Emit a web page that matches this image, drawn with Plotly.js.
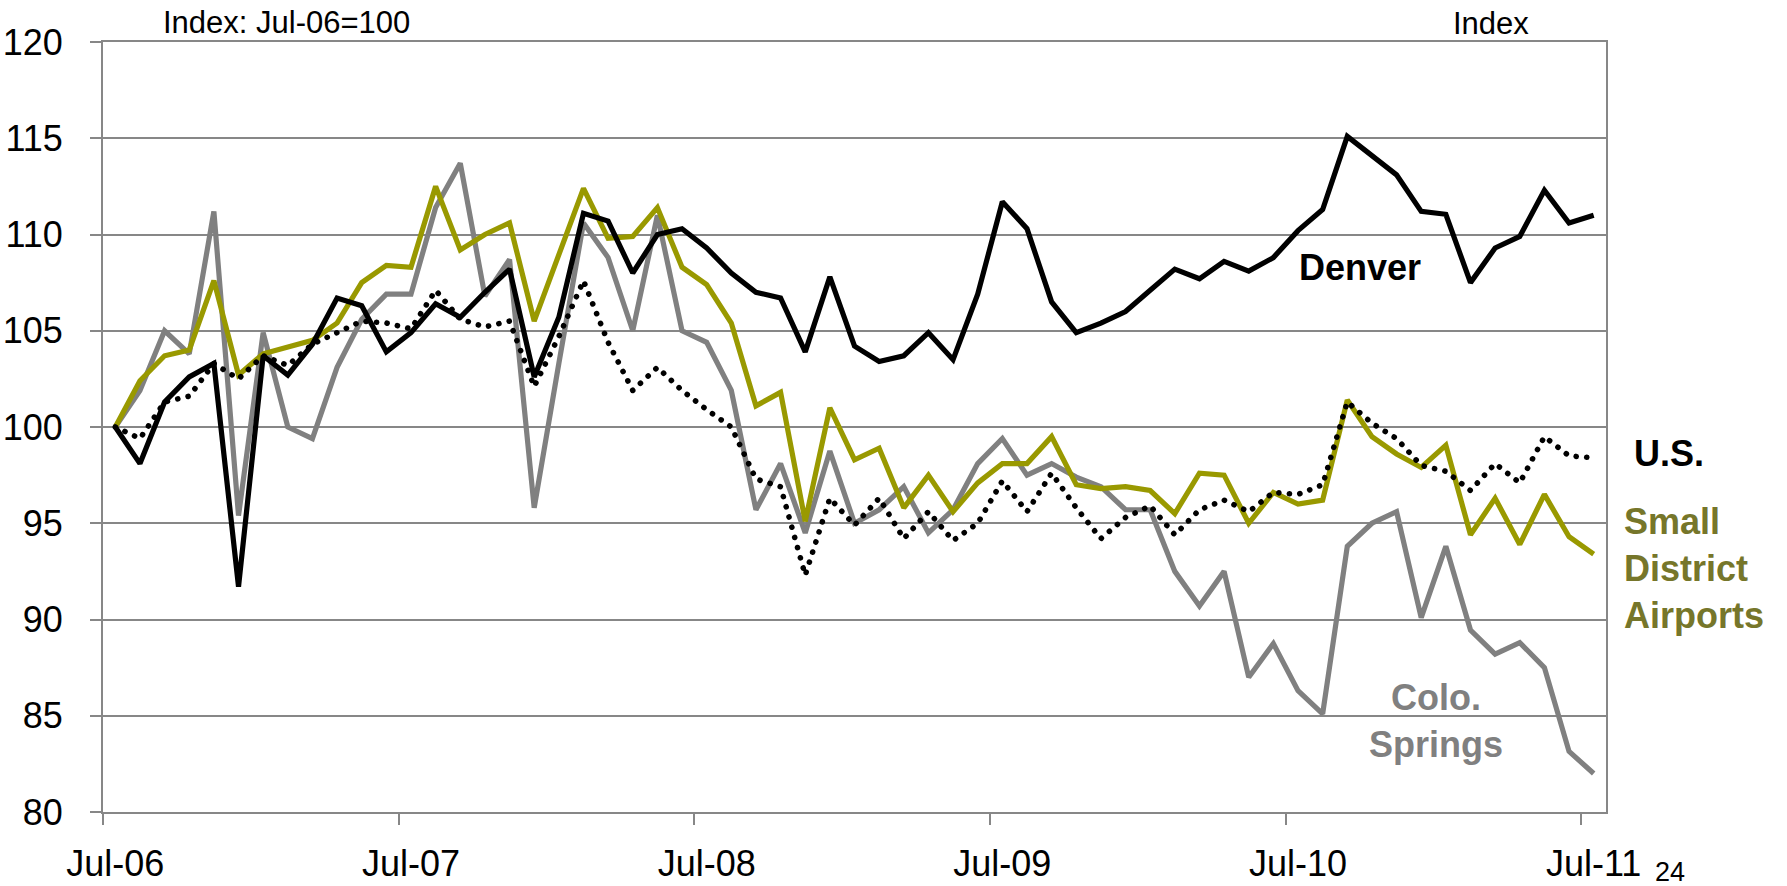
<!DOCTYPE html>
<html>
<head>
<meta charset="utf-8">
<script src="https://cdn.plot.ly/plotly-3.0.1.min.js"></script>
<style>
  html, body { margin: 0; padding: 0; background: #ffffff; }
  #chart { width: 1787px; height: 886px; }
</style>
</head>
<body>
<div id="chart"></div>
<script>
// Months Jul-06 .. Jul-11 (61 monthly points)
const monthIndex = Array.from({length: 61}, (_, i) => i);
const tickPositions = [0, 12, 24, 36, 48, 60];
const tickLabels = ['Jul-06', 'Jul-07', 'Jul-08', 'Jul-09', 'Jul-10', 'Jul-11'];
const yTickValues = [80, 85, 90, 95, 100, 105, 110, 115, 120];

const denver = [100, 98.1, 101.3, 102.6, 103.3, 91.7, 103.7, 102.7, 104.3, 106.7,
  106.3, 103.9, 104.9, 106.4, 105.7, 107.0, 108.2, 102.6, 105.7, 111.1,
  110.7, 108.0, 110.0, 110.3, 109.3, 108.0, 107.0, 106.7, 103.9, 107.8,
  104.2, 103.4, 103.7, 104.9, 103.5, 106.9, 111.7, 110.3, 106.5, 104.9,
  105.4, 106.0, 107.1, 108.2, 107.7, 108.6, 108.1, 108.8, 110.2, 111.3,
  115.1, 114.1, 113.1, 111.2, 111.05, 107.5, 109.3, 109.9, 112.3, 110.6, 111.0];

const us = [100, 99.4, 101.3, 101.6, 103.3, 102.5, 103.7, 103.2, 104.3, 104.9,
  105.5, 105.4, 105.1, 107.1, 105.6, 105.2, 105.5, 102.1, 104.7, 107.6,
  104.4, 101.9, 103.1, 101.9, 100.9, 100.0, 97.3, 96.9, 92.3, 96.3,
  94.9, 96.3, 94.2, 95.6, 94.1, 95.0, 97.2, 95.6, 97.6, 95.8,
  94.2, 95.3, 95.9, 94.4, 95.7, 96.2, 95.6, 96.6, 96.5, 97.0,
  101.3, 100.2, 99.4, 98.0, 97.7, 96.7, 98.1, 97.1, 99.5, 98.5, 98.4];

const smallDistrict = [100, 102.4, 103.7, 104.0, 107.6, 102.7, 103.8, 104.15, 104.5, 105.4,
  107.5, 108.4, 108.3, 112.5, 109.2, 110.0, 110.6, 105.5, 109.0, 112.4,
  109.8, 109.9, 111.4, 108.3, 107.4, 105.4, 101.1, 101.8, 95.1, 101.0,
  98.3, 98.9, 95.8, 97.5, 95.6, 97.1, 98.1, 98.1, 99.5, 97.0,
  96.8, 96.9, 96.7, 95.5, 97.6, 97.5, 95.0, 96.6, 96.0, 96.2,
  101.4, 99.5, 98.6, 97.9, 99.05, 94.4, 96.3, 93.9, 96.5, 94.3, 93.4];

const coloSprings = [100, 101.9, 105.0, 103.8, 111.2, 95.4, 104.9, 100.0, 99.4, 103.1,
  105.6, 106.9, 106.9, 111.4, 113.7, 106.8, 108.7, 95.8, 103.3, 110.6,
  108.8, 105.0, 111.0, 105.0, 104.4, 101.9, 95.7, 98.1, 94.5, 98.75,
  95.0, 95.7, 96.9, 94.5, 95.7, 98.1, 99.4, 97.5, 98.1, 97.4,
  96.9, 95.7, 95.7, 92.5, 90.7, 92.5, 87.0, 88.75, 86.3, 85.1,
  93.8, 95.0, 95.6, 90.1, 93.8, 89.45, 88.2, 88.8, 87.5, 83.15, 82.0];

// Category boundaries (ticks between months)
const boundaryTicks = tickPositions.map(v => v - 0.5);

const FONT = 'Liberation Sans, Arial, Helvetica, sans-serif';
const GRID = '#878787';

const traces = [
  {x: monthIndex, y: coloSprings, name: 'Colo. Springs', type: 'scatter', mode: 'lines',
   line: {color: '#808080', width: 5.2}},
  {x: monthIndex, y: smallDistrict, name: 'Small District Airports', type: 'scatter', mode: 'lines',
   line: {color: '#999900', width: 5.2}},
  {x: monthIndex, y: denver, name: 'Denver', type: 'scatter', mode: 'lines',
   line: {color: '#000000', width: 5.2}},
  {x: monthIndex, y: us, name: 'U.S.', type: 'scatter', mode: 'lines',
   line: {color: '#000000', width: 5.6, dash: '0.1px,10.5px'}}
];

const layout = {
  width: 1787, height: 886,
  margin: {l: 103, r: 181, t: 42, b: 74},
  paper_bgcolor: '#ffffff', plot_bgcolor: '#ffffff',
  showlegend: false,
  font: {family: FONT, color: '#000000'},
  xaxis: {
    range: [-0.5, 60.5],
    tickmode: 'array', tickvals: tickPositions, ticktext: tickLabels,
    ticks: '', showgrid: false, zeroline: false,
    showline: true, linecolor: GRID, linewidth: 2, mirror: true,
    tickfont: {size: 36, color: '#000000', family: FONT},
    ticklabelstandoff: 19,
    minor: {tickmode: 'array', tickvals: boundaryTicks, ticks: 'outside', ticklen: 11,
            tickwidth: 2, tickcolor: GRID, showgrid: false}
  },
  yaxis: {
    range: [80, 120],
    tickmode: 'array', tickvals: yTickValues,
    ticks: 'outside', ticklen: 11, tickwidth: 2, tickcolor: GRID,
    showgrid: true, gridcolor: GRID, gridwidth: 2, zeroline: false,
    showline: true, linecolor: GRID, linewidth: 2, mirror: true,
    tickfont: {size: 36, color: '#000000', family: FONT},
    ticklabelstandoff: 20
  },
  annotations: [
    {text: 'Index: Jul-06=100', xref: 'paper', yref: 'paper', x: 0.1218, y: 1.0247,
     xanchor: 'center', yanchor: 'middle', showarrow: false, font: {size: 31, color: '#000000', family: FONT}},
    {text: 'Index', xref: 'paper', yref: 'paper', x: 0.9235, y: 1.0234,
     xanchor: 'center', yanchor: 'middle', showarrow: false, font: {size: 31, color: '#000000', family: FONT}},
    {text: '24', xref: 'paper', yref: 'paper', x: 1.0426, y: -0.0779,
     xanchor: 'center', yanchor: 'middle', showarrow: false, font: {size: 27, color: '#000000', family: FONT}},
    {text: '<b>Denver</b>', xref: 'paper', yref: 'paper', x: 0.836, y: 0.7065,
     xanchor: 'center', yanchor: 'middle', showarrow: false, font: {size: 36, color: '#000000', family: FONT}},
    {text: '<b>U.S.</b>', xref: 'paper', yref: 'paper', x: 1.0416, y: 0.4662,
     xanchor: 'center', yanchor: 'middle', showarrow: false, font: {size: 36, color: '#000000', family: FONT}},
    {text: '<b>Small<br>District<br>Airports</b>', xref: 'paper', yref: 'paper', x: 1.0106, y: 0.3156,
     xanchor: 'left', yanchor: 'middle', align: 'left', showarrow: false,
     font: {size: 36, color: '#76762A', family: FONT}},
    {text: '<b>Colo.<br>Springs</b>', xref: 'paper', yref: 'paper', x: 0.8869, y: 0.1188,
     xanchor: 'center', yanchor: 'middle', align: 'center', showarrow: false,
     font: {size: 36, color: '#808080', family: FONT}}
  ]
};

const gd = document.getElementById('chart');
function roundDots() {
  const tr = gd.querySelectorAll('.scatterlayer .trace');
  if (tr.length >= 4) {
    const p = tr[3].querySelector('path.js-line');
    if (p) { p.style.strokeLinecap = 'round'; }
  }
}
Plotly.newPlot(gd, traces, layout, {staticPlot: true, displayModeBar: false}).then(() => {
  roundDots();
  gd.on && gd.on('plotly_afterplot', roundDots);
});
</script>
</body>
</html>
